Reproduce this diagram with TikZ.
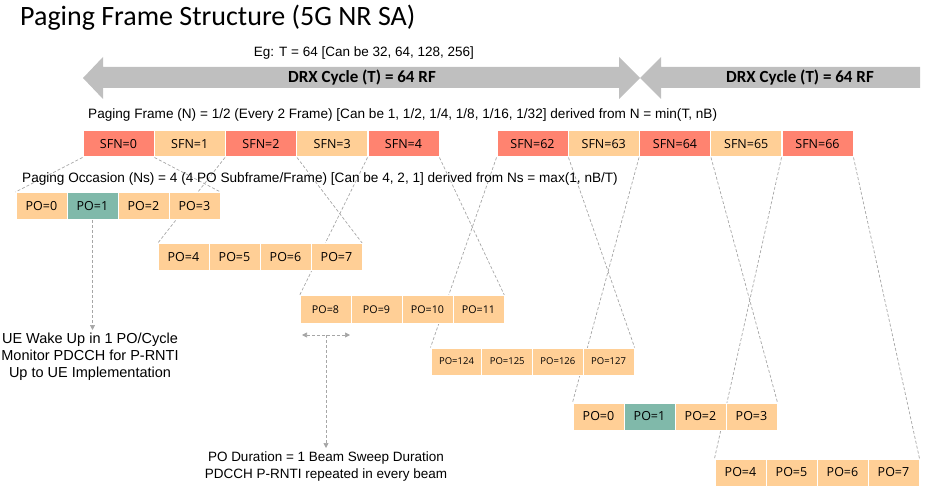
\documentclass[tikz,border=0pt]{standalone}
\usepackage{fontspec}
\setmainfont{Liberation Sans}
\newfontfamily\titlefont{Carlito}
\newfontfamily\boxfont{Open Sans}
\usetikzlibrary{arrows.meta,backgrounds}
\definecolor{sfnred}{HTML}{FF8370}
\definecolor{poorange}{HTML}{FFCF96}
\definecolor{poteal}{HTML}{80B9AA}
\definecolor{arrowgray}{HTML}{BFBFBF}
\definecolor{dashgray}{HTML}{A6A6A6}
\tikzset{
  sfnbox/.style={fill=sfnred, draw=white, line width=1pt, minimum width=71pt, minimum height=26pt, inner sep=0pt, font=\boxfont\fontsize{12.5}{14}\selectfont},
  sfnpale/.style={sfnbox, fill=poorange},
  pobox/.style={fill=poorange, draw=white, line width=1pt, minimum width=51pt, minimum height=27pt, inner sep=0pt, font=\boxfont\fontsize{12.5}{14}\selectfont},
  poteal/.style={pobox, fill=poteal},
  zoomline/.style={draw=dashgray, dash pattern=on 3pt off 2pt, line width=0.7pt},
  notearrow/.style={zoomline, -{Triangle[length=5pt,width=5pt]}},
  infotext/.style={font=\fontsize{13.6}{15}\selectfont, inner sep=0pt, anchor=west},
  notetext/.style={font=\fontsize{14.5}{17}\selectfont, align=center, inner sep=0pt, anchor=north},
}
\begin{document}
\begin{tikzpicture}[x=1pt, y=-1pt]
  \useasboundingbox (0,0) rectangle (926,494);
  \node (title) [anchor=west, inner sep=0pt, font=\titlefont\fontsize{28}{30}\selectfont] at (20,18) {Paging Frame Structure (5G NR SA)};

  % DRX cycles
  \fill[arrowgray] (83,78) -- (103,57) -- (103,67) -- (619,67) -- (619,57) -- (640,78)
        -- (619,99) -- (619,88) -- (103,88) -- (103,99) -- cycle;
  \fill[arrowgray] (640,78) -- (661,57) -- (661,67) -- (920,67) -- (920,88) -- (661,88) -- (661,99) -- cycle;
  \node (eg) [font=\fontsize{13.5}{15}\selectfont, inner sep=0pt] at (364,53) {Eg: T = 64 [Can be 32, 64, 128, 256]};
  \node (drx_a) [font=\titlefont\bfseries\fontsize{17}{18}\selectfont, inner sep=0pt] at (362,78) {DRX Cycle (T) = 64 RF};
  \node (drx_b) [font=\titlefont\bfseries\fontsize{17}{18}\selectfont, inner sep=0pt] at (800,78) {DRX Cycle (T) = 64 RF};

  \node (pf) [infotext] at (88,115) {Paging Frame (N) = 1/2 (Every 2 Frame) [Can be 1, 1/2, 1/4, 1/8, 1/16, 1/32] derived from N = min(T, nB)};
  \node (ps) [infotext] at (22,179) {Paging Occasion (Ns) = 4 (4 PO Subframe/Frame) [Can be 4, 2, 1] derived from Ns = max(1, nB/T)};

  % system frames
  \node (sfn0) [sfnbox]  at (118.5,144) {SFN=0};
  \node (sfn1) [sfnpale] at (189.75,144) {SFN=1};
  \node (sfn2) [sfnbox]  at (261,144) {SFN=2};
  \node (sfn3) [sfnpale] at (332.25,144) {SFN=3};
  \node (sfn4) [sfnbox]  at (403.5,144) {SFN=4};

  \node (sfn62) [sfnbox]  at (532.5,144) {SFN=62};
  \node (sfn63) [sfnpale] at (603.75,144) {SFN=63};
  \node (sfn64) [sfnbox]  at (675,144) {SFN=64};
  \node (sfn65) [sfnpale] at (746.25,144) {SFN=65};
  \node (sfn66) [sfnbox]  at (817.5,144) {SFN=66};

  % paging occasions, first cycle
  \node (po0) [pobox]  at (41.5,206) {PO=0};
  \node (po1) [poteal] at (92.5,206) {PO=1};
  \node (po2) [pobox]  at (143.5,206) {PO=2};
  \node (po3) [pobox]  at (194.5,206) {PO=3};

  \node (po4) [pobox] at (183.5,257.5) {PO=4};
  \node (po5) [pobox] at (234.5,257.5) {PO=5};
  \node (po6) [pobox] at (285.5,257.5) {PO=6};
  \node (po7) [pobox] at (336.5,257.5) {PO=7};

  \node (po8)  [pobox, font=\boxfont\fontsize{10.7}{12}\selectfont] at (325.5,309.5) {PO=8};
  \node (po9)  [pobox, font=\boxfont\fontsize{10.7}{12}\selectfont] at (376.5,309.5) {PO=9};
  \node (po10) [pobox, font=\boxfont\fontsize{10.7}{12}\selectfont] at (427.5,309.5) {PO=10};
  \node (po11) [pobox, font=\boxfont\fontsize{10.7}{12}\selectfont] at (478.5,309.5) {PO=11};

  \node (po124) [pobox, font=\boxfont\fontsize{9.5}{11}\selectfont] at (456.5,361.5) {PO=124};
  \node (po125) [pobox, font=\boxfont\fontsize{9.5}{11}\selectfont] at (507.2,361.5) {PO=125};
  \node (po126) [pobox, font=\boxfont\fontsize{9.5}{11}\selectfont] at (557.9,361.5) {PO=126};
  \node (po127) [pobox, font=\boxfont\fontsize{9.5}{11}\selectfont] at (608.6,361.5) {PO=127};

  % paging occasions, next cycle
  \node (pob0) [pobox]  at (598.5,416.5) {PO=0};
  \node (pob1) [poteal] at (649.5,416.5) {PO=1};
  \node (pob2) [pobox]  at (700.5,416.5) {PO=2};
  \node (pob3) [pobox]  at (751.5,416.5) {PO=3};

  \node (pob4) [pobox] at (740.5,472.5) {PO=4};
  \node (pob5) [pobox] at (791.5,472.5) {PO=5};
  \node (pob6) [pobox] at (842.5,472.5) {PO=6};
  \node (pob7) [pobox] at (893.5,472.5) {PO=7};

  % zoom lines behind the boxes
  \begin{scope}[on background layer]
    \draw[zoomline] (sfn0.south west) -- (po0.north west);
    \draw[zoomline] (sfn0.south east) -- (po3.north east);
    \draw[zoomline] (sfn2.south west) -- (po4.north west);
    \draw[zoomline] (sfn2.south east) -- (po7.north east);
    \draw[zoomline] (sfn4.south west) -- (po8.north west);
    \draw[zoomline] (sfn4.south east) -- (po11.north east);
    \draw[zoomline] (sfn62.south west) -- (po124.north west);
    \draw[zoomline] (sfn62.south east) -- (po127.north east);
    \draw[zoomline] (sfn64.south west) -- (pob0.north west);
    \draw[zoomline] (sfn64.south east) -- (pob3.north east);
    \draw[zoomline] (sfn66.south west) -- (pob4.north west);
    \draw[zoomline] (sfn66.south east) -- (pob7.north east);
  \end{scope}

  % notes
  \node (wake) [notetext] at (90,333) {UE Wake Up in 1 PO/Cycle\\Monitor PDCCH for P-RNTI\\Up to UE Implementation};
  \draw[notearrow, shorten >=3pt] (po1.south) -- (wake.north -| po1.south);

  \coordinate (dur_l) at (302,335);
  \coordinate (dur_r) at (350,335);
  \coordinate (dur_m) at (326,335);
  \node (dur) [notetext, font=\fontsize{13.5}{17}\selectfont] at (326,452) {PO Duration = 1 Beam Sweep Duration\\PDCCH P-RNTI repeated in every beam};
  \draw[zoomline, {Triangle[length=5pt,width=5pt]}-{Triangle[length=5pt,width=5pt]}] (dur_l) -- (dur_r);
  \draw[notearrow, shorten >=4pt] (dur_m) -- (dur.north);
\end{tikzpicture}
\end{document}
